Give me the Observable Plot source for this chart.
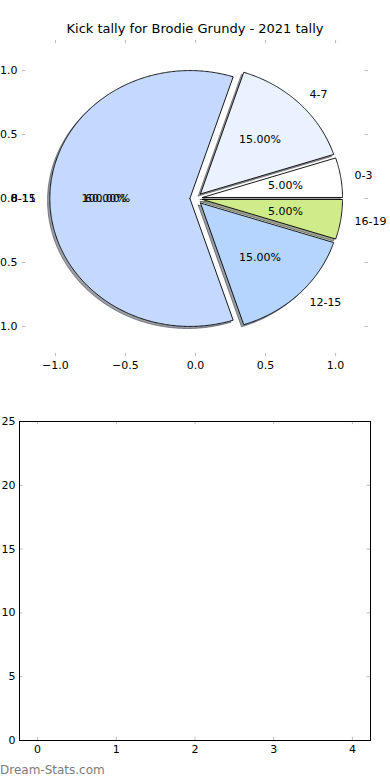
<!DOCTYPE html>
<html>
<head>
<meta charset="utf-8">
<script src="https://cdn.jsdelivr.net/npm/d3@7"></script>
<script src="https://cdn.jsdelivr.net/npm/@observablehq/plot@0.6"></script>
<style>
  html, body { margin: 0; padding: 0; background: white; }
  #wrap { position: relative; width: 390px; height: 780px; overflow: hidden; font-family: "DejaVu Sans", sans-serif; background: white; }
  #title { position: absolute; left: 0; width: 390px; top: 21px; text-align: center; font-size: 13px; line-height: 16px; color: black; }
  #pie { position: absolute; left: 0; top: 0; }
  #empty { position: absolute; left: 0; top: 400px; }
  #mark { position: absolute; left: 0; top: 763px; font-size: 12px; line-height: 14px; color: #7c7c7c; }
  svg { overflow: hidden; }
</style>
</head>
<body>
<div id="wrap">
  <div id="pie"></div>
  <div id="title">Kick tally for Brodie Grundy - 2021 tally</div>
  <div id="empty"></div>
  <div id="mark">Dream-Stats.com</div>
</div>
<script>
// ---- data ----
const categories = ["0-3", "4-7", "8-11", "12-15", "16-19"];
const shares = [5, 15, 60, 15, 5];
const explodes = [0.05, 0.05, 0.04, 0.05, 0.05];
const sliceColors = ["#ffffff", "#eaf1ff", "#c5d9ff", "#b5d5ff", "#d0ec8a"];
// overlapping duplicate label drawn on the large slice in the original
const overlapSlice = "8-11";
const overlapLabel = "8-15";
const overlapPct = "100.00%";

const pieTicks = [-1, -0.5, 0, 0.5, 1];
const barXTicks = [0, 1, 2, 3, 4];
const barYTicks = [0, 5, 10, 15, 20, 25];

// ---- pie geometry from data ----
const total = d3.sum(shares);
let acc = 0;
const slices = categories.map((cat, i) => {
  const a1 = acc / total * 360;
  acc += shares[i];
  const a2 = acc / total * 360;
  const mid = (a1 + a2) / 2 * Math.PI / 180;
  const cx = explodes[i] * Math.cos(mid), cy = explodes[i] * Math.sin(mid);
  const pts = [{x: cx, y: cy}];
  const n = Math.max(4, Math.ceil((a2 - a1) * 2));
  for (let k = 0; k <= n; k++) {
    const t = (a1 + (a2 - a1) * k / n) * Math.PI / 180;
    pts.push({x: cx + Math.cos(t), y: cy + Math.sin(t)});
  }
  pts.push({x: cx, y: cy});
  const c = d3.rgb(sliceColors[i]);
  const shadow = d3.rgb(c.r * 0.3, c.g * 0.3, c.b * 0.3).formatHex();
  return {
    cat, pts, color: sliceColors[i], shadow,
    lx: cx + 1.1 * Math.cos(mid), ly: cy + 1.1 * Math.sin(mid),
    px: cx + 0.6 * Math.cos(mid), py: cy + 0.6 * Math.sin(mid),
    pct: (shares[i] / total * 100).toFixed(2) + "%"
  };
});
const ov = slices.find(s => s.cat === overlapSlice);
const labelRows = slices.map(s => ({x: s.lx, y: s.ly, t: s.cat}))
  .concat([{x: ov.lx, y: ov.ly, t: overlapLabel}]);
const pctRows = slices.map(s => ({x: s.px, y: s.py, t: s.pct}))
  .concat([{x: ov.px, y: ov.py, t: overlapPct}]);

const lim = 1.235;
const fmt1 = d3.format(".1f");
const tickGray = "#bbbbbb";
const sh = 0.016;

const pie = Plot.plot({
  width: 390, height: 380,
  marginTop: 40, marginBottom: 24, marginLeft: 22, marginRight: 22,
  x: {domain: [-lim, lim]},
  y: {domain: [-lim, lim]},
  style: {fontFamily: "DejaVu Sans", fontSize: "11px", color: "black", background: "white", overflow: "hidden"},
  marks: [
    ...slices.map(s => Plot.line(s.pts, {x: d => d.x - sh, y: d => d.y - sh, fill: s.shadow, fillOpacity: 0.5, stroke: s.shadow, strokeOpacity: 0.6, strokeWidth: 1, curve: "linear"})),
    ...slices.map(s => Plot.line(s.pts, {x: "x", y: "y", fill: s.color, stroke: "black", strokeWidth: 0.9, curve: "linear"})),
    Plot.text(labelRows.filter(d => d.x >= 0), {x: "x", y: "y", text: "t", textAnchor: "start", fill: "black", fontSize: 11}),
    Plot.text(labelRows.filter(d => d.x < 0), {x: "x", y: "y", text: "t", textAnchor: "end", fill: "black", fontSize: 11}),
    Plot.text(pctRows, {x: "x", y: "y", text: "t", textAnchor: "middle", fill: "black", fontSize: 11}),
    // tick marks (inward, grey) on all four sides
    Plot.ruleX(pieTicks, {x: d => d, y1: -lim, y2: -lim + 0.025, stroke: tickGray}),
    Plot.ruleX(pieTicks, {x: d => d, y1: lim, y2: lim - 0.025, stroke: tickGray}),
    Plot.ruleY(pieTicks, {y: d => d, x1: -lim, x2: -lim + 0.025, stroke: tickGray}),
    Plot.ruleY(pieTicks, {y: d => d, x1: lim, x2: lim - 0.025, stroke: tickGray}),
    Plot.axisX({anchor: "bottom", ticks: pieTicks, tickSize: 0, tickPadding: 5, tickFormat: fmt1, label: null, fill: "black", fontSize: 11}),
    Plot.axisY({anchor: "left", ticks: pieTicks, tickSize: 0, tickPadding: 5, tickFormat: fmt1, label: null, fill: "black", fontSize: 11})
  ]
});
document.getElementById("pie").appendChild(pie);

const xlo = -0.23, xhi = 4.23;
const empty = Plot.plot({
  width: 390, height: 360,
  marginTop: 21, marginBottom: 20, marginLeft: 19, marginRight: 20,
  x: {domain: [xlo, xhi]},
  y: {domain: [0, 25]},
  style: {fontFamily: "DejaVu Sans", fontSize: "11px", color: "black", background: "white", overflow: "visible"},
  marks: [
    Plot.ruleX(barXTicks, {x: d => d, y1: 0, y2: 0.25, stroke: tickGray}),
    Plot.ruleX(barXTicks, {x: d => d, y1: 25, y2: 24.75, stroke: tickGray}),
    Plot.ruleY(barYTicks, {y: d => d, x1: xlo, x2: xlo + 0.045, stroke: tickGray}),
    Plot.ruleY(barYTicks, {y: d => d, x1: xhi, x2: xhi - 0.045, stroke: tickGray}),
    Plot.frame({stroke: "black", strokeWidth: 1}),
    Plot.axisX({anchor: "bottom", ticks: barXTicks, tickSize: 0, tickPadding: 5, tickFormat: d3.format("d"), label: null, fill: "black", fontSize: 11}),
    Plot.axisY({anchor: "left", ticks: barYTicks, tickSize: 0, tickPadding: 4, tickFormat: d3.format("d"), label: null, fill: "black", fontSize: 11})
  ]
});
document.getElementById("empty").appendChild(empty);
</script>
</body>
</html>
